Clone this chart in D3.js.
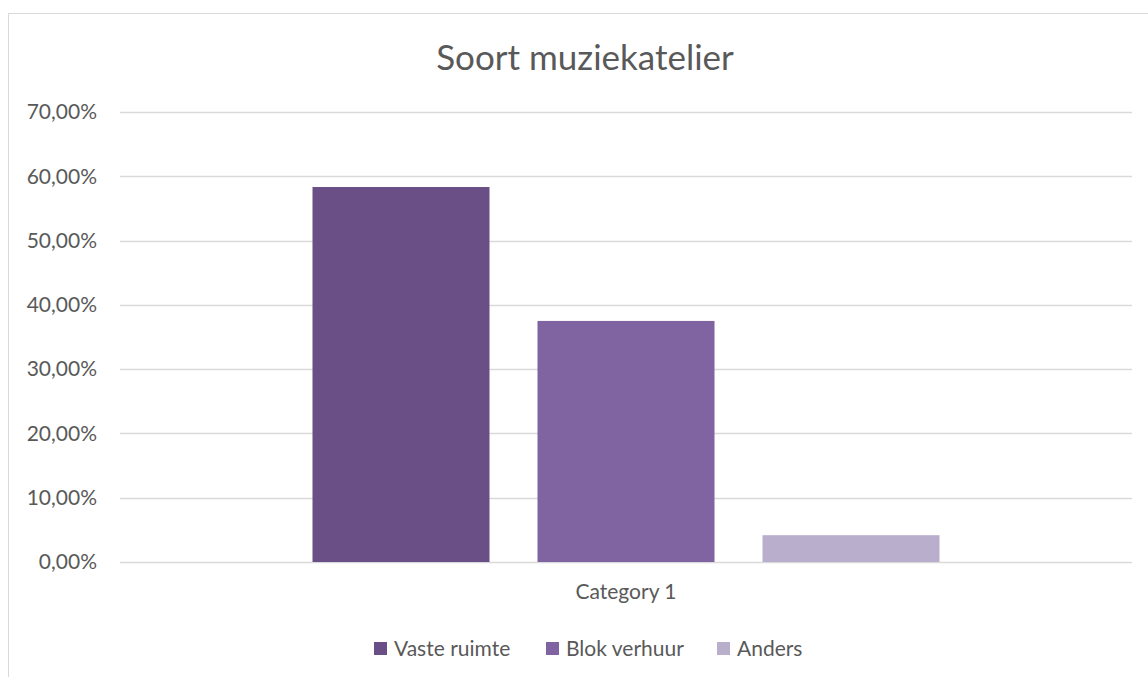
<!DOCTYPE html>
<html>
<head>
<meta charset="utf-8">
<script src="https://cdn.jsdelivr.net/npm/d3@7"></script>
<style>
  body { margin: 0; background: #fff; }
  svg text { font-family: Lato, "Open Sans", sans-serif; fill: #595959; }
</style>
</head>
<body>
<div id="chart"></div>
<script>
// chart data
const title = "Soort muziekatelier";
const categories = ["Category 1"];
const seriesNames = ["Vaste ruimte", "Blok verhuur", "Anders"];
const seriesValues = [[0.5833], [0.375], [0.0417]];
const seriesColors = ["#694f86", "#8064a2", "#b9aecb"];
const yTicks = [0, 0.1, 0.2, 0.3, 0.4, 0.5, 0.6, 0.7];

const size = {width: 1148, height: 677};
const margin = {top: 112, right: 16, bottom: 115, left: 120};
const width = size.width - margin.left - margin.right;
const height = size.height - margin.top - margin.bottom;

const svg = d3.select("#chart").append("svg")
    .attr("width", size.width)
    .attr("height", size.height);

// outer chart frame (runs off the right and bottom edges)
svg.append("rect")
    .attr("x", 8.5).attr("y", 13.5)
    .attr("width", size.width + 10).attr("height", size.height + 10)
    .attr("fill", "none").attr("stroke", "#d9d9d9").attr("stroke-width", 1);

svg.append("text")
    .attr("x", 585).attr("y", 70)
    .attr("text-anchor", "middle")
    .style("font-size", "35px")
    .text(title);

const g = svg.append("g")
    .attr("transform", "translate(" + margin.left + "," + margin.top + ")");

const yScale = d3.scaleLinear().domain([0, 0.7]).range([height, 0]);
const x0 = d3.scaleBand().domain(categories).range([0, width]).padding(0.2349);
const x1 = d3.scaleBand().domain(seriesNames).range([0, x0.bandwidth()])
    .paddingInner(0.2133).paddingOuter(0);

const fmt = v => d3.format(".2f")(v * 100).replace(".", ",") + "%";

// gridlines
g.selectAll(".grid")
    .data(yTicks)
    .join("line")
    .attr("class", "grid")
    .attr("x1", 0).attr("x2", width)
    .attr("y1", d => Math.round(yScale(d)) + 0.5)
    .attr("y2", d => Math.round(yScale(d)) + 0.5)
    .attr("stroke", "#d9d9d9").attr("stroke-width", 1.5);

// y axis labels
const yAxisG = g.append("g")
    .call(d3.axisLeft(yScale).tickValues(yTicks).tickFormat(fmt).tickSize(0).tickPadding(23));
yAxisG.select(".domain").remove();
yAxisG.selectAll("text")
    .style("font-size", "21px")
    .style("font-family", "Lato, 'Open Sans', sans-serif")
    .attr("fill", "#595959");

// bars
const catG = g.selectAll(".catG")
    .data(categories)
    .join("g")
    .attr("class", "catG")
    .attr("transform", d => "translate(" + x0(d) + ",0)");

catG.selectAll("rect")
    .data((c, ci) => seriesNames.map((s, si) => ({series: s, value: seriesValues[si][ci], color: seriesColors[si]})))
    .join("rect")
    .attr("x", d => x1(d.series))
    .attr("width", x1.bandwidth())
    .attr("y", d => yScale(d.value))
    .attr("height", d => height - yScale(d.value))
    .attr("fill", d => d.color);

// x axis labels
const xAxisG = g.append("g")
    .attr("transform", "translate(0," + height + ")")
    .call(d3.axisBottom(x0).tickSize(0).tickPadding(22));
xAxisG.select(".domain").remove();
xAxisG.selectAll("text")
    .style("font-size", "21px")
    .style("font-family", "Lato, 'Open Sans', sans-serif")
    .attr("fill", "#595959");

// legend
const legendX = [374, 546, 717];
const legend = svg.selectAll(".legendItem")
    .data(seriesNames)
    .join("g")
    .attr("class", "legendItem")
    .attr("transform", (d, i) => "translate(" + legendX[i] + ",642)");
legend.append("rect")
    .attr("width", 13).attr("height", 13)
    .attr("fill", (d, i) => seriesColors[i]);
legend.append("text")
    .attr("x", 20).attr("y", 14)
    .style("font-size", "21px")
    .text(d => d);
</script>
</body>
</html>
